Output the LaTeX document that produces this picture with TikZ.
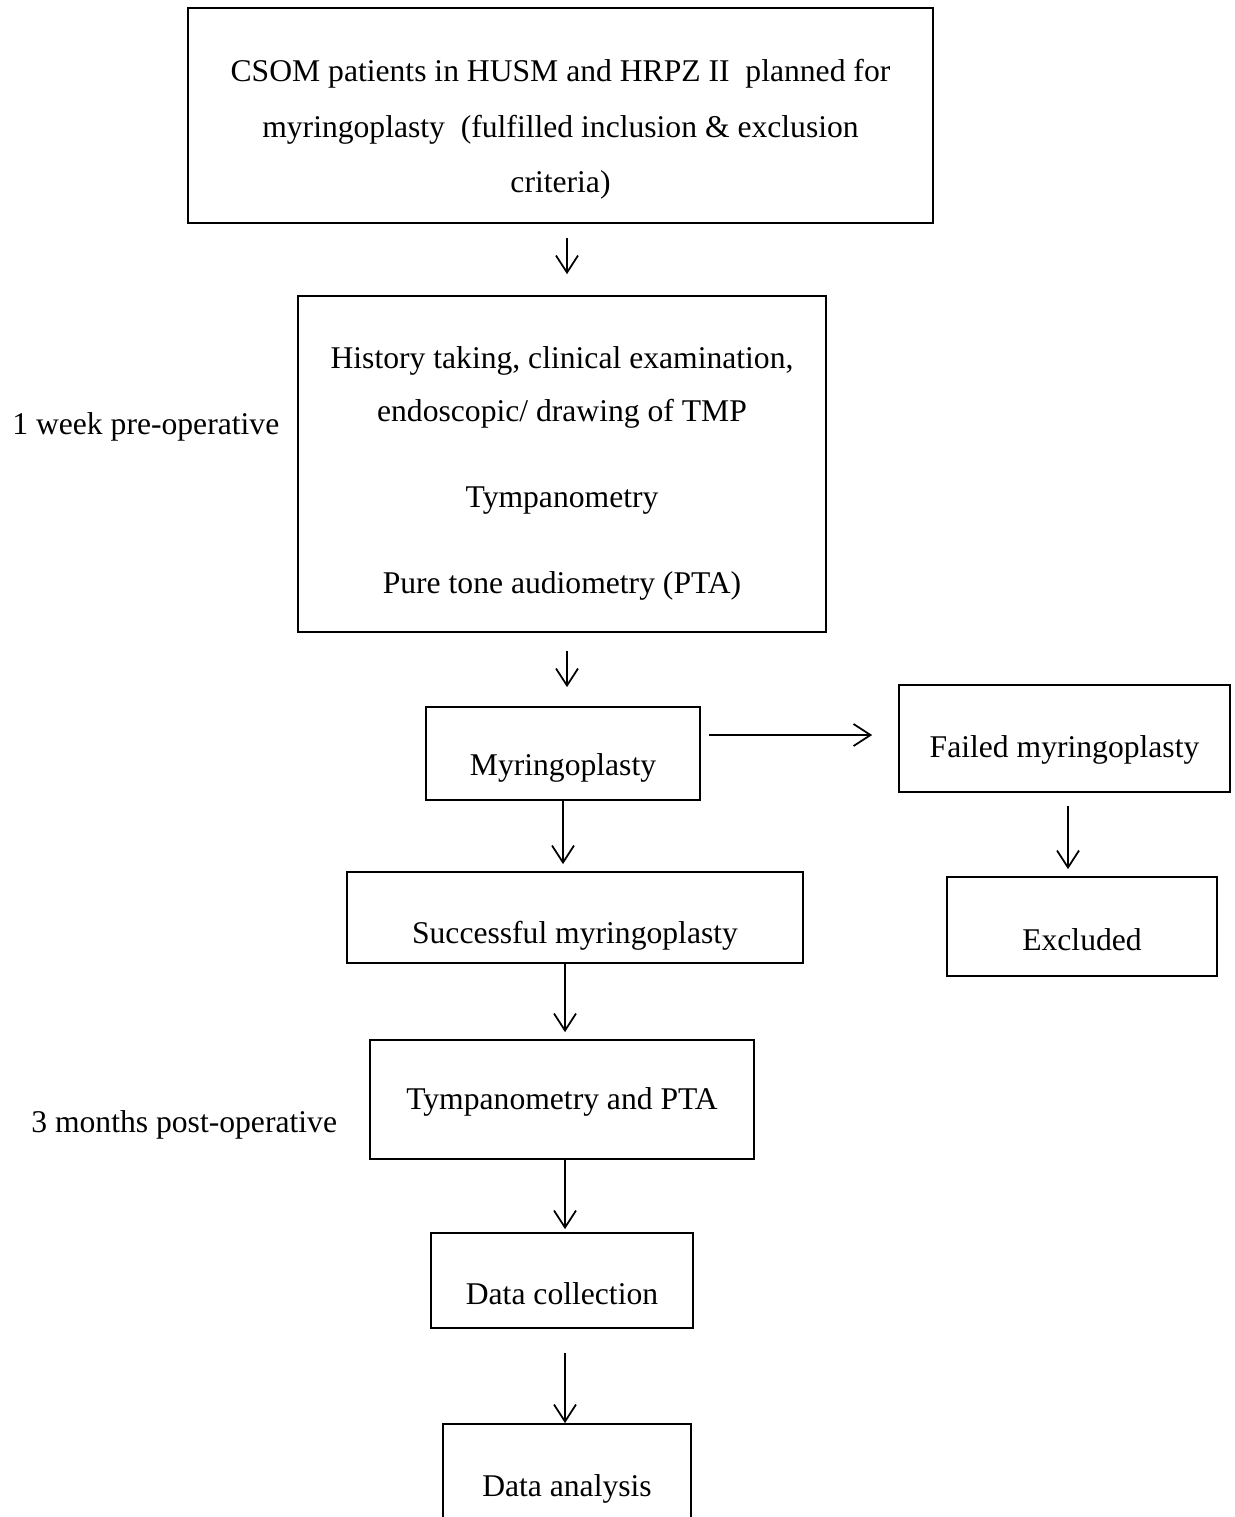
\documentclass[tikz,border=0pt]{standalone}
\usepackage{fontspec}
\setmainfont{Liberation Serif}
\usetikzlibrary{arrows.meta,positioning,calc}

\begin{document}
\begin{tikzpicture}[x=0.02cm,y=-0.02cm,
 font=\fontsize{18}{31}\selectfont,
 box/.style={draw,line width=1pt,align=center,inner sep=0pt},
 side/.style={anchor=west,inner sep=0pt},
 arr/.style={-{Straight Barb[length=3.4mm,width=4.4mm]},line width=1pt}]
\useasboundingbox (0,0) rectangle (1234,1517);
\clip (0,0) rectangle (1234,1517);
% main column
\node[box,minimum width=14.9cm,minimum height=4.3cm,font=\fontsize{18}{31.75}\selectfont] (csom) at (560.5,115.5) {\rule{0pt}{28.5pt}CSOM patients in HUSM and HRPZ II\ \ planned for\\myringoplasty\ \ (fulfilled inclusion \& exclusion\\criteria)};
\node[box,minimum width=10.56cm,minimum height=6.72cm,font=\fontsize{18}{30}\selectfont] (hist) at (562,464) {\rule{0pt}{23pt}History taking, clinical examination,\\endoscopic/ drawing of TMP\\[19pt]Tympanometry\\[19pt]Pure tone audiometry (PTA)};
\node[box,minimum width=5.48cm,minimum height=1.86cm,text height=29pt] (myr) at (563,753.5) {Myringoplasty};
\node[box,minimum width=9.12cm,minimum height=1.82cm,text height=33pt] (succ) at (575,917.5) {Successful myringoplasty};
\node[box,minimum width=7.68cm,minimum height=2.38cm,text height=15pt] (tymp) at (562,1099.5) {Tympanometry and PTA};
\node[box,minimum width=5.24cm,minimum height=1.9cm,text height=28pt] (coll) at (562,1280.5) {Data collection};
\node[box,minimum width=4.96cm,minimum height=2.0cm,text height=29pt] (anal) at (567,1474) {Data analysis};
% failed branch
\node[box,minimum width=6.62cm,minimum height=2.14cm,text height=26pt] (fail) at (1064.5,738.5) {Failed myringoplasty};
\node[box,minimum width=5.4cm,minimum height=1.98cm,text height=27pt] (excl) at (1082,926.5) {Excluded};
% time labels
\node[side] (pre) at (12,427) {1 week pre-operative};
\node[side] (post) at (31,1125) {3 months post-operative};
% arrows
\draw[arr,shorten <=0.28cm,shorten >=0.42cm] ([xshift=0.1cm]hist.north |- csom.south) -- ([xshift=0.1cm]hist.north);
\draw[arr,shorten <=0.36cm,shorten >=0.38cm] ([xshift=0.1cm]hist.south) -- ([xshift=0.1cm]hist.south |- myr.north);
\draw[arr,shorten <=0.16cm,shorten >=0.52cm] ([yshift=0.37cm]myr.east) -- ([yshift=0.37cm]myr.east -| fail.west);
\draw[arr,shorten >=0.14cm] (myr.south) -- (myr.south |- succ.north);
\draw[arr,shorten <=0.26cm,shorten >=0.14cm] ([xshift=0.07cm]fail.south) -- ([xshift=0.07cm]fail.south |- excl.north);
\draw[arr,shorten >=0.14cm] ([xshift=0.06cm]tymp.north |- succ.south) -- ([xshift=0.06cm]tymp.north);
\draw[arr,shorten >=0.06cm] ([xshift=0.06cm]tymp.south) -- ([xshift=0.06cm]coll.north);
\draw[arr,shorten <=0.48cm] ([xshift=0.06cm]coll.south) -- ([xshift=0.06cm]coll.south |- anal.north);
\end{tikzpicture}
\end{document}
